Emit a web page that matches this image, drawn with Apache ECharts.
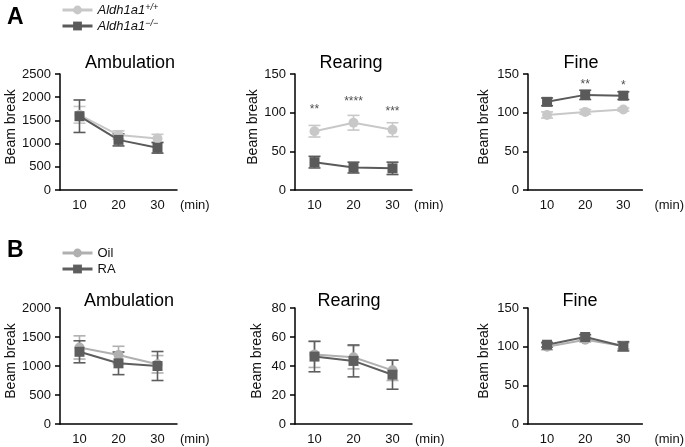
<!DOCTYPE html>
<html><head><meta charset="utf-8">
<script src="https://cdn.jsdelivr.net/npm/echarts@6/dist/echarts.min.js"></script>
<style>html,body{margin:0;padding:0;background:#fff}#c{width:685px;height:447px}</style>
</head><body><div id="c"></div>
<script>
// ---------- data ----------
const cats = ['10', '20', '30'];
// Panel A (Aldh1a1 +/+ vs -/-)
const ambA_wt = [1620, 1185, 1110];  const ambA_wt_err = [180, 90, 90];
const ambA_ko = [1590, 1080, 910];   const ambA_ko_err = [350, 130, 115];
const rearA_wt = [76, 87, 78];       const rearA_wt_err = [7.5, 9.5, 9];
const rearA_ko = [36, 29, 28];       const rearA_ko_err = [7.5, 7, 8];
const fineA_wt = [97, 101, 104];     const fineA_wt_err = [4, 3, 2];
const fineA_ko = [114, 123, 122];    const fineA_ko_err = [5, 6, 5];
const rearA_stars = ['**', '****', '***'];   const rearA_starY = [104, 114, 101];
const fineA_stars = ['', '**', '*'];         const fineA_starY = [null, 136, 135];
// Panel B (Oil vs RA)
const ambB_oil = [1320, 1190, 1030]; const ambB_oil_err = [200, 150, 150];
const ambB_ra = [1245, 1046, 1000];  const ambB_ra_err = [190, 195, 250];
const rearB_oil = [48, 46, 37];      const rearB_oil_err = [9, 8, 7];
const rearB_ra = [46.5, 43.5, 34];   const rearB_ra_err = [10.5, 11, 10];
const fineB_oil = [100, 109, 101];   const fineB_oil_err = [4, 3, 4];
const fineB_ra = [102.5, 112.5, 100.5]; const fineB_ra_err = [3, 3, 6];

const yMaxes = [2500, 150, 150, 2000, 80, 150];
const yIntervals = [500, 50, 50, 500, 20, 50];
const panelTitles = ['Ambulation', 'Rearing', 'Fine', 'Ambulation', 'Rearing', 'Fine'];

// ---------- styling ----------
const FONT = 'Liberation Sans, Arial, sans-serif';
const cLightA = '#c8c8c8', cDarkA = '#5a5a5a';
const cLightB = '#b0b0b0', cDarkB = '#5e5e5e';

const lefts = [60, 295, 528];
const tops = [74, 308];
const W = 117, H = 116;
const nameGaps = [40, 30, 37, 41, 31, 37];
const minGaps = [3, 2, 12, 3, 3, 12];
const titleCenters = [125, 346, 576, 124, 344, 575];

const grids = [], xAxes = [], yAxes = [], series = [], titles = [];
titles.push({text: 'A', left: 2, top: 1, textStyle: {fontFamily: FONT, fontSize: 23, fontWeight: 'bold', color: '#000'}});
titles.push({text: 'B', left: 2, top: 234, textStyle: {fontFamily: FONT, fontSize: 23, fontWeight: 'bold', color: '#000'}});

for (let i = 0; i < 6; i++) {
  const row = Math.floor(i / 3), col = i % 3;
  grids.push({left: lefts[col], top: tops[row], width: W, height: H});
  xAxes.push({
    type: 'category', gridIndex: i, data: cats, boundaryGap: true,
    name: '(min)', nameLocation: 'end', nameGap: minGaps[i],
    nameTextStyle: {fontFamily: FONT, fontSize: 13, color: '#111', verticalAlign: 'top', padding: [9, 0, 0, 0]},
    axisLine: {lineStyle: {color: '#000', width: 1.5}},
    axisTick: {alignWithLabel: true, length: 5, lineStyle: {color: '#000', width: 1.5}},
    axisLabel: {fontFamily: FONT, fontSize: 13, color: '#111', margin: 9},
    splitLine: {show: false}
  });
  yAxes.push({
    type: 'value', gridIndex: i, min: 0, max: yMaxes[i], interval: yIntervals[i],
    name: 'Beam break', nameLocation: 'middle', nameGap: nameGaps[i], nameRotate: 90,
    nameTextStyle: {fontFamily: FONT, fontSize: 14, color: '#111', padding: [0, 0, 0, 10]},
    axisLine: {show: true, lineStyle: {color: '#000', width: 1.5}},
    axisTick: {show: true, length: 5, lineStyle: {color: '#000', width: 1.5}},
    axisLabel: {fontFamily: FONT, fontSize: 13, color: '#111', margin: 9, formatter: v => String(v)},
    splitLine: {show: false}
  });
  titles.push({text: panelTitles[i], left: titleCenters[i], top: row === 0 ? 49 : 287, textAlign: 'center',
    textStyle: {fontFamily: FONT, fontSize: 18, fontWeight: 'normal', color: '#000'}});
}

function errData(m, e) { return m.map((v, k) => [k, v - e[k], v + e[k]]); }
function errSeries(idx, m, e, color) {
  return {
    type: 'custom', xAxisIndex: idx, yAxisIndex: idx, silent: true, z: 2,
    data: errData(m, e), encode: {x: 0, y: [1, 2]},
    renderItem: function (params, api) {
      const x = api.value(0);
      const lo = api.coord([x, api.value(1)]);
      const hi = api.coord([x, api.value(2)]);
      const w = 6;
      const st = {stroke: color, lineWidth: 1.6};
      return {type: 'group', children: [
        {type: 'line', shape: {x1: hi[0], y1: hi[1], x2: lo[0], y2: lo[1]}, style: st},
        {type: 'line', shape: {x1: hi[0] - w, y1: hi[1], x2: hi[0] + w, y2: hi[1]}, style: st},
        {type: 'line', shape: {x1: lo[0] - w, y1: lo[1], x2: lo[0] + w, y2: lo[1]}, style: st}
      ]};
    }
  };
}
function lineSeries(idx, m, color, symbol, size, name) {
  return {
    type: 'line', name: name, xAxisIndex: idx, yAxisIndex: idx, data: m, z: 3,
    symbol: symbol, symbolSize: size, showSymbol: true,
    lineStyle: {color: color, width: 2}, itemStyle: {color: color}
  };
}
function starSeries(idx, labels, ys) {
  return {
    type: 'scatter', xAxisIndex: idx, yAxisIndex: idx, symbolSize: 1, silent: true,
    itemStyle: {color: 'rgba(0,0,0,0)'},
    data: ys.map((y, k) => [k, y]).filter(d => d[1] !== null),
    label: {show: true, position: 'inside', fontFamily: FONT, fontSize: 12, color: '#222',
      formatter: p => labels[p.data[0]]}
  };
}

const panelsData = [
  [ambA_wt, ambA_wt_err, ambA_ko, ambA_ko_err],
  [rearA_wt, rearA_wt_err, rearA_ko, rearA_ko_err],
  [fineA_wt, fineA_wt_err, fineA_ko, fineA_ko_err],
  [ambB_oil, ambB_oil_err, ambB_ra, ambB_ra_err],
  [rearB_oil, rearB_oil_err, rearB_ra, rearB_ra_err],
  [fineB_oil, fineB_oil_err, fineB_ra, fineB_ra_err]
];
for (let i = 0; i < 6; i++) {
  const A = i < 3;
  const cl = A ? cLightA : cLightB, cd = A ? cDarkA : cDarkB;
  const n1 = A ? 'WT' : 'Oil', n2 = A ? 'KO' : 'RA';
  const d = panelsData[i];
  series.push(errSeries(i, d[0], d[1], cl));
  series.push(lineSeries(i, d[0], cl, 'circle', 10, n1));
  series.push(errSeries(i, d[2], d[3], cd));
  series.push(lineSeries(i, d[2], cd, 'rect', 10, n2));
}
series.push(starSeries(1, rearA_stars, rearA_starY));
series.push(starSeries(2, fineA_stars, fineA_starY));

const legendText = {fontFamily: FONT, fontSize: 13, color: '#111', lineHeight: 14,
  rich: {i: {fontFamily: FONT, fontStyle: 'italic', fontSize: 13, color: '#111', lineHeight: 14},
         s: {fontFamily: FONT, fontStyle: 'italic', fontSize: 9, color: '#111', verticalAlign: 'top', lineHeight: 10}}};

const chart = echarts.init(document.getElementById('c'), null, {renderer: 'canvas'});
chart.setOption({
  animation: false,
  backgroundColor: '#fff',
  title: titles,
  legend: [
    {left: 56, top: -2, padding: 5, orient: 'vertical', itemWidth: 30, itemHeight: 11, itemGap: 2,
     data: ['WT', 'KO'], textStyle: legendText, lineStyle: {width: 3},
     formatter: n => n === 'WT' ? '{i|Aldh1a1}{s|+/+}' : '{i|Aldh1a1}{s|−/−}'},
    {left: 56, top: 241, padding: 5, orient: 'vertical', itemWidth: 30, itemHeight: 11, itemGap: 2,
     data: ['Oil', 'RA'], textStyle: legendText, lineStyle: {width: 3}}
  ],
  grid: grids, xAxis: xAxes, yAxis: yAxes, series: series
});
</script></body></html>
